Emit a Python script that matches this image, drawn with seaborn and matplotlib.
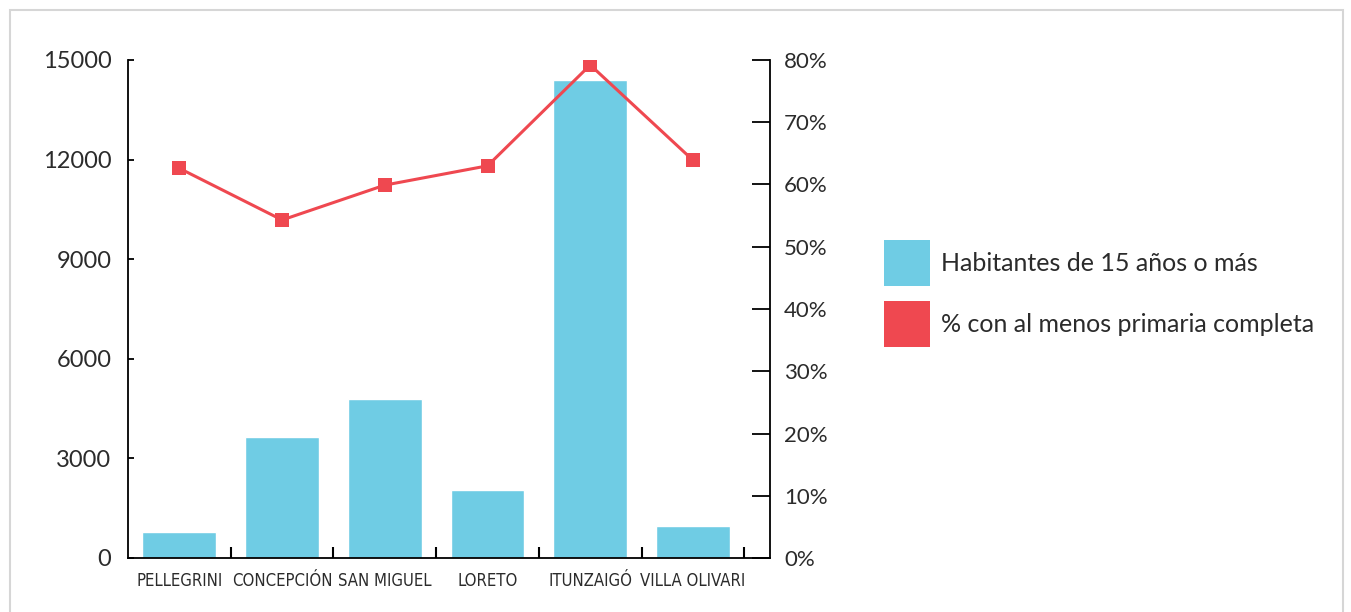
import numpy as np
import pandas as pd
import matplotlib
matplotlib.use("Agg")
import matplotlib.pyplot as plt
from matplotlib.patches import Patch, Rectangle
import seaborn as sns

# Datos
localidades = ["PELLEGRINI", "CONCEPCIÓN", "SAN MIGUEL", "LORETO", "ITUNZAIGÓ", "VILLA OLIVARI"]
habitantes = [780, 3640, 4790, 2050, 14400, 960]
pct_primaria = [62.6, 54.3, 59.9, 63.0, 79.2, 63.9]

left_ticks = [0, 3000, 6000, 9000, 12000, 15000]
right_ticks = [0, 10, 20, 30, 40, 50, 60, 70, 80]

bar_color = "#6fcce4"
line_color = "#ef4850"
text_color = "#2b2b2b"

sns.set_theme(style="white")
plt.rcParams["font.family"] = ["Lato", "DejaVu Sans"]

df = pd.DataFrame({"loc": localidades, "hab": habitantes, "pct": pct_primaria})

fig = plt.figure(figsize=(13.51, 6.12), dpi=100)
ax = fig.add_axes([128 / 1351, 1 - 558 / 612, (770 - 128) / 1351, (558 - 60) / 612])

sns.barplot(data=df, x="loc", y="hab", color=bar_color, width=0.72,
            saturation=1, ax=ax)
ax.set_xlim(-0.5, 5.75)
ax.set_ylim(0, 15000)
ax.set_yticks(left_ticks)
ax.set_yticklabels([str(t) for t in left_ticks], fontsize=17, color=text_color)
ax.tick_params(axis="y", direction="in", length=4, width=1.3, pad=12, colors="black",
               labelcolor=text_color)
ax.set_xlabel("")
ax.set_ylabel("")

# x: etiquetas centradas, marcas en los bordes
ax.set_xticks(range(len(localidades)))
ax.set_xticklabels(localidades, fontsize=12, color=text_color,
                   family=["Liberation Sans Narrow", "DejaVu Sans"],
                   fontstretch="condensed")
ax.set_xticks(np.arange(0.5, len(localidades)), minor=True)
ax.tick_params(axis="x", which="major", length=0, pad=10)
ax.tick_params(axis="x", which="minor", direction="in", length=8, width=1.5,
               colors="black", bottom=True)

for s in ["top", "right"]:
    ax.spines[s].set_visible(False)
for s in ["left", "bottom"]:
    ax.spines[s].set_color("black")
    ax.spines[s].set_linewidth(1.3)

ax2 = ax.twinx()
sns.lineplot(x=np.arange(len(localidades)), y=df["pct"], color=line_color,
             linewidth=2.2, marker="s", markersize=10, markeredgewidth=0, ax=ax2)
ax2.set_ylim(0, 80)
ax2.set_yticks(right_ticks)
ax2.set_yticklabels([f"{t}%" for t in right_ticks], fontsize=16, color=text_color)
ax2.tick_params(axis="y", direction="in", length=13, width=1.3, pad=10,
                colors="black", labelcolor=text_color)
ax2.set_ylabel("")
for s in ["top", "left", "bottom"]:
    ax2.spines[s].set_visible(False)
ax2.spines["right"].set_color("black")
ax2.spines["right"].set_linewidth(1.3)

handles = [Patch(facecolor=bar_color, edgecolor="none"),
           Patch(facecolor=line_color, edgecolor="none")]
fig.legend(handles, ["Habitantes de 15 años o más", "% con al menos primaria completa"],
           loc="upper left", bbox_to_anchor=(884 / 1351, 1 - 240 / 612),
           frameon=False, fontsize=18, handlelength=1.84, handleheight=2.45,
           handletextpad=0.45, labelspacing=0.6, borderpad=0, borderaxespad=0,
           labelcolor=text_color)

# marco gris
fig.patches.append(Rectangle((10 / 1351, -0.05), (1343 - 10) / 1351, 1.05 - 10 / 612,
                             transform=fig.transFigure, fill=False,
                             edgecolor="#d6d6d6", linewidth=1.5))

fig.savefig("out.png", dpi=100)
